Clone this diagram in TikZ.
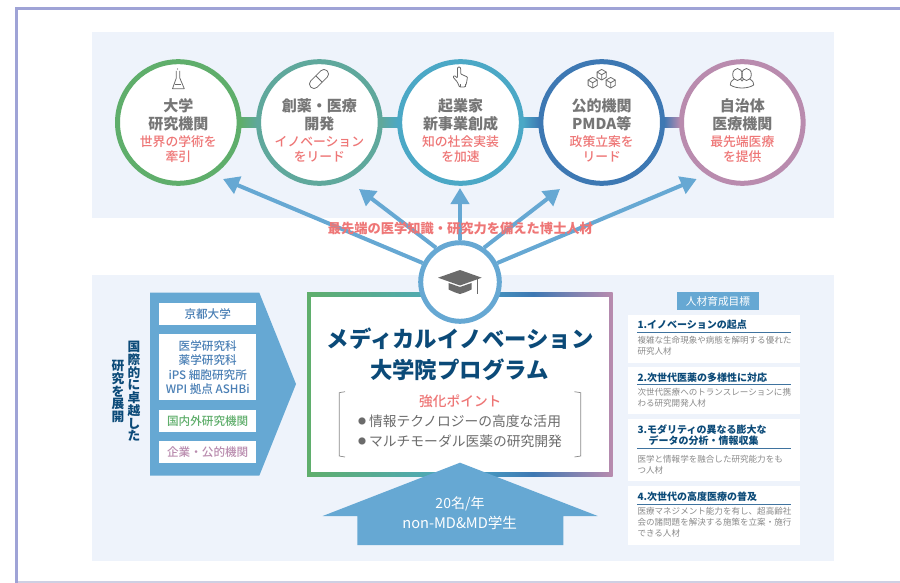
\documentclass[tikz,border=0pt]{standalone}
\usepackage{fontspec}
\setmainfont{Noto Sans CJK JP}
\newfontfamily\medf{Noto Sans CJK JP Medium}
\usetikzlibrary{arrows.meta}
\definecolor{cgreen}{HTML}{5FAE6B}
\definecolor{cteal}{HTML}{5FA89C}
\definecolor{ccyan}{HTML}{4BA8C6}
\definecolor{cblue}{HTML}{3D78B3}
\definecolor{cmauve}{HTML}{B98BAE}
\definecolor{abl}{HTML}{66A8D3}
\definecolor{panel}{HTML}{EEF3FB}
\definecolor{lav}{HTML}{9FA3D6}
\definecolor{lavlight}{HTML}{CFCFE3}
\definecolor{tgray}{HTML}{6B6B6B}
\definecolor{hgray}{HTML}{767676}
\definecolor{bgray}{HTML}{8A8A8A}
\definecolor{tred}{HTML}{EE7676}
\definecolor{navy}{HTML}{0B4A78}
\definecolor{mblue}{HTML}{4A7FB5}
\definecolor{rule}{HTML}{3F739F}
\pgfdeclarehorizontalshading{frameshade}{100bp}{color(0bp)=(cgreen); color(25bp)=(cgreen); color(50bp)=(ccyan); color(62bp)=(cblue); color(75bp)=(cmauve); color(100bp)=(cmauve)}
\tikzset{
  fs/.style={font=\fontsize{#1}{#1}\selectfont, text height=#1*0.88pt, text depth=#1*0.12pt, inner sep=0pt},
  fm/.style={font=\fontsize{#1}{#1}\selectfont\medf, text height=#1*0.88pt, text depth=#1*0.12pt, inner sep=0pt},
  fb/.style={font=\fontsize{#1}{#1}\selectfont\bfseries, text height=#1*0.88pt, text depth=#1*0.12pt, inner sep=0pt},
  ring/.style={circle, draw=#1, fill=white, line width=5pt, minimum size=121.6pt, inner sep=0pt},
  head/.style={fb=15, text=hgray},
  redt/.style={fm=12.8, text=tred},
  boxt/.style={fm=11.6, text=#1},
  ctitle/.style={fb=22.4, text=navy},
  ltitle/.style={fb=10, text=navy, anchor=west},
  lbody/.style={fs=8.55, text=bgray, anchor=west},
  whitebox/.style={fill=white, draw=none},
  spoke/.style={draw=abl, line width=4pt, -{Triangle[length=16pt,width=18pt]}},
  icon/.style={draw=tgray, line width=.8pt, line join=round},
  crule/.style={draw=rule, line width=1pt},
  vert/.style={font=\fontsize{12.7}{12.7}\selectfont\bfseries, text=navy, align=center, inner sep=0pt}
}
\newcommand{\cub}[2]{%
  \draw[icon] (#1,#2-5.3) -- (#1+4.6,#2-2.65) -- (#1+4.6,#2+2.65) -- (#1,#2+5.3) -- (#1-4.6,#2+2.65) -- (#1-4.6,#2-2.65) -- cycle;
  \draw[icon] (#1-4.6,#2-2.65) -- (#1,#2) -- (#1+4.6,#2-2.65) (#1,#2) -- (#1,#2+5.3);}
\newcommand{\ctxt}[6]{%
  \node[head] (#1a) at (#2,106) {#3};
  \node[head] (#1b) at (#2,123.5) {#4};
  \node[redt] (#1c) at (#2,142) {#5};
  \node[redt] (#1d) at (#2,157) {#6};}
\begin{document}
\begin{tikzpicture}[x=1pt,y=-1pt]
\useasboundingbox (0,0) rectangle (900,583);
% outer frame
\fill[lavlight] (16.5,581) rectangle (900,583);
\fill[lav] (15,7) rectangle (18,583);
\fill[lav] (15,7) rectangle (900,10);
% panels
\fill[panel] (92,32) rectangle (834,217.7);
\fill[panel] (92,275) rectangle (834,561);
% big frame
\shade[shading=frameshade] (307,292.7) rectangle (612.7,476);
\fill[white] (311,296.7) rectangle (608.7,472);
% circles
\node[ring=cgreen] (c1) at (178.3,122.5) {};
\node[ring=cteal] (c2) at (319.4,122.5) {};
\node[ring=ccyan] (c3) at (460.5,122.5) {};
\node[ring=cblue] (c4) at (601.7,122.5) {};
\node[ring=cmauve] (c5) at (742.3,122.5) {};
% bars between circles
\shade[left color=cgreen,right color=cteal] (c1.east) ++(-1,-5) rectangle ([xshift=1pt,yshift=-5pt]c2.west);
\shade[left color=cteal,right color=ccyan] (c2.east) ++(-1,-5) rectangle ([xshift=1pt,yshift=-5pt]c3.west);
\shade[left color=ccyan,right color=cblue] (c3.east) ++(-1,-5) rectangle ([xshift=1pt,yshift=-5pt]c4.west);
\shade[left color=cblue,right color=cmauve] (c4.east) ++(-1,-5) rectangle ([xshift=1pt,yshift=-5pt]c5.west);
\ctxt{a}{178.3}{大学}{研究機関}{世界の学術を}{牽引}
\ctxt{b}{319.4}{創薬・医療}{開発}{イノベーション}{をリード}
\ctxt{e}{460.5}{起業家}{新事業創成}{知の社会実装}{を加速}
\ctxt{d}{601.7}{公的機関}{PMDA等}{政策立案を}{リード}
\ctxt{f}{742.3}{自治体}{医療機関}{最先端医療}{を提供}
% icons
\draw[icon] (176.3,71) -- (176.3,78) -- (172.5,88.7) -- (184.3,88.7) -- (179.8,78) -- (179.8,71);
\draw[icon] (175.4,84) -- (181.4,84);
\fill[tgray] (177.5,69) circle (.7);
\draw[icon, rotate around={45:(319,79)}, rounded corners=4.2pt] (307.5,74.5) rectangle (330.5,83.5);
\draw[icon, rotate around={45:(319,79)}] (319,74.5) -- (319,83.5);
\draw[icon, rounded corners=.8pt] (457.4,68.5) -- (458,67) -- (460,67) -- (460.7,68.5) -- (460.7,74) -- (467.5,77) -- (466.5,83) -- (465,87) -- (459.5,87) -- (457.3,82) -- (453,77) -- (454.5,75.5) -- (457.4,78) -- cycle;
\draw[icon] (460,87) -- (460,84.5) (465,87) -- (465,84.5);
\cub{601.7}{74.7}
\cub{592.7}{82.7}
\cub{610.7}{82.7}
\draw[icon] (737.5,74.5) ellipse (4.8 and 6);
\draw[icon] (746.5,74.5) ellipse (4.8 and 6);
\draw[icon] (734.3,79) .. controls (731,81) and (730,83) .. (730.3,85) .. controls (733,87) and (738,88) .. (742,88) .. controls (746,88) and (751,87) .. (753.7,85) .. controls (754,83) and (753,81) .. (749.7,79);
\draw[icon] (740.5,79) -- (742,81) -- (743.5,79);
% hub
\node[circle, draw=abl, fill=white, line width=5pt, minimum size=78.6pt, inner sep=0pt] (hub) at (460,282) {};
% arrow tips
\coordinate (t1) at (223,179);
\coordinate (t2) at (359,189);
\coordinate (t3) at (460,188);
\coordinate (t4) at (560,189);
\coordinate (t5) at (696.7,179);
\draw[spoke] (hub.153) -- (t1);
\draw[spoke] (hub.125) -- (t2);
\draw[spoke] (hub.90) -- (t3);
\draw[spoke] (hub.55) -- (t4);
\draw[spoke] (hub.27) -- (t5);
\node[fb=13.25, text=tred] (lab) at (460.3,228.5) {最先端の医学知識・研究力を備えた博士人材};
% mortar board
\fill[tgray] (438,277.7) -- (460,270) -- (481.7,277.7) -- (460,285.5) -- cycle;
\fill[tgray] (448.5,283) -- (460,287) -- (471.5,283) -- (471.5,289.5) .. controls (466,292) and (464,293) .. (460,294) .. controls (456,293) and (454,292) .. (448.5,289.5) -- cycle;
\draw[tgray, line width=1.3pt] (477.5,279) -- (477.5,294);
% left pentagon
\fill[abl] (150,292.7) -- (259.3,292.7) -- (296,384) -- (259.3,475.7) -- (150,475.7) -- cycle;
\fill[whitebox] (159.3,302.7) rectangle (256,325);
\fill[whitebox] (159.3,334) rectangle (256,400);
\fill[whitebox] (159.3,410) rectangle (256,432);
\fill[whitebox] (159.3,441) rectangle (256,463);
\node[boxt=mblue] (k1) at (207.7,314) {京都大学};
\node[boxt=mblue] (k2) at (207.7,346) {医学研究科};
\node[boxt=mblue] (k3) at (207.7,360.5) {薬学研究科};
\node[boxt=mblue] (k4) at (207.7,375) {iPS 細胞研究所};
\node[boxt=mblue] (k5) at (207.7,389.5) {WPI 拠点 ASHBi};
\node[boxt=cgreen] (k6) at (207.7,421) {国内外研究機関};
\node[boxt=cmauve] (k7) at (207.7,452) {企業・公的機関};
\node[vert] (v1) at (134,391.5) {国\\際\\的\\に\\卓\\越\\し\\た};
\node[vert] (v2) at (118,391.5) {研\\究\\を\\展\\開};
% centre text
\node[ctitle] (m1) at (460.3,339) {メディカルイノベーション};
\node[ctitle] (m2) at (459.3,370) {大学院プログラム};
\draw[draw=bgray, line width=.7pt] (345,391.7) -- (339.2,392.7) -- (339.2,456) -- (345,457);
\draw[draw=bgray, line width=.7pt] (574.5,391.7) -- (580.7,392.7) -- (580.7,456) -- (574.5,457);
\node[fm=13.7, text=tred] (p0) at (460.3,401) {強化ポイント};
\node[fs=8, text=tgray] (b1) at (362,421.7) {●};
\node[fs=13.76, text=tgray, anchor=west] (p1) at (369,421.7) {情報テクノロジーの高度な活用};
\node[fs=8, text=tgray] (b2) at (362,441.7) {●};
\node[fs=13.76, text=tgray, anchor=west] (p2) at (369,441.7) {マルチモーダル医薬の研究開発};
% house arrow
\fill[abl] (460,462.7) -- (597.7,516) -- (563.3,516) -- (563.3,545) -- (357.3,545) -- (357.3,516) -- (322.7,516) -- cycle;
\node[fs=14, text=white] (h1) at (460,503) {20名/年};
\node[fs=14.6, text=white] (h2) at (459.7,522.7) {non-MD\&MD学生};
% right column
\fill[abl] (676.7,292.3) rectangle (759.3,310);
\node[fs=10.7, text=white] (r0) at (718,301) {人材育成目標};
\fill[whitebox] (628.3,315) rectangle (800,362.7);
\fill[whitebox] (628.3,367.3) rectangle (800,414);
\fill[whitebox] (628.3,419) rectangle (800,480.7);
\fill[whitebox] (628.3,486) rectangle (800,545);
\node[ltitle] (r1) at (637.3,325) {1.イノベーションの起点};
\draw[crule] (637.3,332.3) -- (791,332.3);
\node[lbody] (r1a) at (637.3,340.3) {複雑な生命現象や病態を解明する優れた};
\node[lbody] (r1b) at (637.3,351.3) {研究人材};
\node[ltitle] (r2) at (637.3,377.7) {2.次世代医薬の多様性に対応};
\draw[crule] (637.3,384.3) -- (791,384.3);
\node[lbody] (r2a) at (637.3,392.7) {次世代医療へのトランスレーションに携};
\node[lbody] (r2b) at (637.3,403.3) {わる研究開発人材};
\node[ltitle] (r3) at (637.3,429.3) {3.モダリティの異なる膨大な};
\node[ltitle] (r3x) at (648.3,441) {データの分析・情報収集};
\draw[crule] (637.3,448.7) -- (791,448.7);
\node[lbody] (r3a) at (637.3,459.3) {医学と情報学を融合した研究能力をも};
\node[lbody] (r3b) at (637.3,470.7) {つ人材};
\node[ltitle] (r4) at (637.3,496.7) {4.次世代の高度医療の普及};
\draw[crule] (637.3,504) -- (791,504);
\node[lbody] (r4a) at (637.3,511.7) {医療マネジメント能力を有し、超高齢社};
\node[lbody] (r4b) at (637.3,522.3) {会の諸問題を解決する施策を立案・施行};
\node[lbody] (r4c) at (637.3,533.3) {できる人材};
\end{tikzpicture}
\end{document}
